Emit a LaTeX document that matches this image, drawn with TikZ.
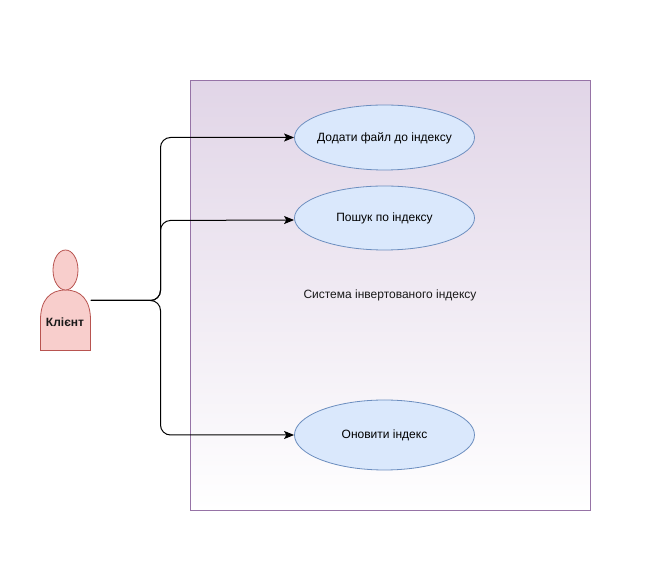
\documentclass[tikz,border=0pt]{standalone}
\usepackage{fontspec}
\setmainfont{Liberation Sans}
\usetikzlibrary{arrows.meta,calc,shapes.geometric}
\definecolor{sysline}{HTML}{9673A6}
\definecolor{systop}{HTML}{E1D5E7}
\definecolor{ucfill}{HTML}{DAE8FC}
\definecolor{ucline}{HTML}{6C8EBF}
\definecolor{actfill}{HTML}{F8CECC}
\definecolor{actline}{HTML}{B85450}
\tikzset{
  sysbox/.style={draw=sysline,line width=0.6pt,top color=systop,bottom color=white,minimum width=300pt,minimum height=322.5pt,inner sep=0pt},
  usecase/.style={draw=ucline,line width=0.6pt,fill=ucfill,ellipse,minimum width=135pt,inner sep=-12pt,font=\fontsize{9}{11}\selectfont,text height=7.7pt,text depth=2pt},
  actorpart/.style={draw=actline,line width=0.6pt,fill=actfill},
  label/.style={font=\fontsize{9}{11}\selectfont,text=black!90,inner sep=0pt},
  link/.style={draw=black,line width=0.75pt,rounded corners=7.5pt,-{Stealth[length=7.5pt,width=6pt,inset=1.6pt]}}
}
\begin{document}
\begin{tikzpicture}[x=0.75pt,y=-0.75pt]
\useasboundingbox (0,0) rectangle (650,580);
\node[sysbox] (system) at (390.5,295.5) {};
\node[label,text height=7.7pt,text depth=2pt] (systext) at (390,295) {Система інвертованого індексу};
\node[usecase,minimum height=48.75pt] (add) at (384.5,137.5) {Додати файл до індексу};
\node[usecase,minimum height=48pt] (search) at (384.5,218) {Пошук по індексу};
\node[usecase,minimum height=52.5pt] (update) at (384.5,435) {Оновити індекс};
% actor
\node[minimum width=37.5pt,minimum height=75pt,inner sep=0pt] (client) at (65.5,300.5) {};
\draw[actorpart] (40.5,350.5) -- (40.5,320) .. controls (40.5,300) and (50,290) .. (65.5,290) .. controls (81,290) and (90.5,300) .. (90.5,320) -- (90.5,350.5) -- cycle;
\node[actorpart,ellipse,minimum width=18.75pt,minimum height=30pt,inner sep=0pt] (head) at (65.5,270) {};
\node[label,font=\fontsize{9}{11}\selectfont\bfseries] (clienttext) at (65,322) {Клієнт};
% connectors
\draw[link] (client.east) -- (160.5,300.5) -- (160.5,137.5) -- (add.west);
\draw[link] (client.east) -- (160.5,300.5) -- (160.5,220.5) -- ($(search.west)+(0,2)$);
\draw[link] (client.east) -- (160.5,300.5) -- (160.5,435) -- (update.west);
\end{tikzpicture}
\end{document}
